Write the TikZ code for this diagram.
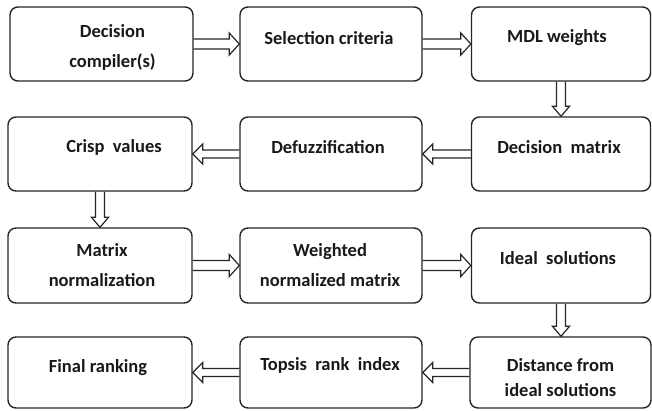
\documentclass[tikz,border=0pt]{standalone}
\usepackage{fontspec}
\setmainfont{Carlito}
\usetikzlibrary{calc}
\tikzset{
  box/.style={draw=black!85, line width=1.4pt, rounded corners=8pt, minimum width=#1, minimum height=74pt, inner sep=0pt},
  box/.default=182pt,
  txt/.style={font=\fontsize{18.5}{30}\selectfont\bfseries, align=center, inner sep=0pt, text=black!90},
  barrow/.style={draw=black!85, line width=1.2pt, line join=miter},
}
\newcommand\myRarrow[2]{\draw[barrow] let \p1=(#1.east), \p2=(#2.west) in (\x1,\y1+5pt) -- (\x2-10pt,\y1+5pt) -- (\x2-10pt,\y1+11pt) -- (\x2,\y1) -- (\x2-10pt,\y1-11pt) -- (\x2-10pt,\y1-5pt) -- (\x1,\y1-5pt);}
\newcommand\myLarrow[2]{\draw[barrow] let \p1=(#1.west), \p2=(#2.east) in (\x1,\y1+4pt) -- (\x2+10pt,\y1+4pt) -- (\x2+10pt,\y1+10pt) -- (\x2,\y1) -- (\x2+10pt,\y1-10pt) -- (\x2+10pt,\y1-4pt) -- (\x1,\y1-4pt);}
\newcommand\myDarrow[2]{\draw[barrow] let \p1=(#1.south), \p2=(#2.north) in (\x1-4.5pt,\y1) -- (\x1-4.5pt,\y2+10pt) -- (\x1-8.5pt,\y2+10pt) -- (\x1,\y2) -- (\x1+8.5pt,\y2+10pt) -- (\x1+4.5pt,\y2+10pt) -- (\x1+4.5pt,\y1);}
\begin{document}
\begin{tikzpicture}[x=1pt,y=-1pt]
\useasboundingbox[fill=white] (0,0) rectangle (652,410);
% row 1
\node[box=183pt] (b1) at (101.5,44) {};
\node[box] (b2) at (331,44) {};
\node[box=179pt] (b3) at (561,44) {};
% row 2
\node[box=184pt] (b4) at (100,154) {};
\node[box] (b5) at (331,154) {};
\node[box=179pt] (b6) at (561,154) {};
% row 3
\node[box=184pt,minimum height=75pt] (b7) at (100,265.5) {};
\node[box,minimum height=75pt] (b8) at (331,265.5) {};
\node[box=179pt,minimum height=75pt] (b9) at (561,265.5) {};
% row 4
\node[box=184pt,minimum height=71pt] (b10) at (100,372.5) {};
\node[box,minimum height=71pt] (b11) at (331,372.5) {};
\node[box=181pt,minimum height=71pt] (b12) at (560.5,372.5) {};
% texts
\node[txt] (t1) at ($(b1.center)+(11,3)$) {Decision\\compiler(s)};
\node[txt] (t2) at ($(b2.center)+(-2,-6)$) {Selection criteria};
\node[txt] (t3) at ($(b3.center)+(-4,-6)$) {MDL weights};
\node[txt] (t4) at ($(b4.center)+(14,-7)$) {Crisp\ \ values};
\node[txt] (t5) at ($(b5.center)+(-3,-7)$) {Defuzzification};
\node[txt] (t6) at ($(b6.center)+(-2,-7)$) {Decision\ \ matrix};
\node[txt] (t7) at ($(b7.center)+(2,0)$) {Matrix\\normalization};
\node[txt] (t8) at ($(b8.center)+(-1,0)$) {Weighted\\normalized matrix};
\node[txt] (t9) at ($(b9.center)+(-3,-7)$) {Ideal\ \ solutions};
\node[txt,font=\fontsize{18.5}{25}\selectfont\bfseries] (t10) at ($(b12.center)+(0,5)$) {Distance from\\ideal solutions};
\node[txt] (t11) at ($(b11.center)+(-1,-7)$) {Topsis\ \ rank\ \ index};
\node[txt] (t12) at ($(b10.center)+(-2,-5)$) {Final ranking};
% arrows
\myRarrow{b1}{b2}
\myRarrow{b2}{b3}
\myDarrow{b3}{b6}
\myLarrow{b6}{b5}
\myLarrow{b5}{b4}
\myDarrow{b4}{b7}
\myRarrow{b7}{b8}
\myRarrow{b8}{b9}
\myDarrow{b9}{b12}
\myLarrow{b12}{b11}
\myLarrow{b11}{b10}
\end{tikzpicture}
\end{document}
